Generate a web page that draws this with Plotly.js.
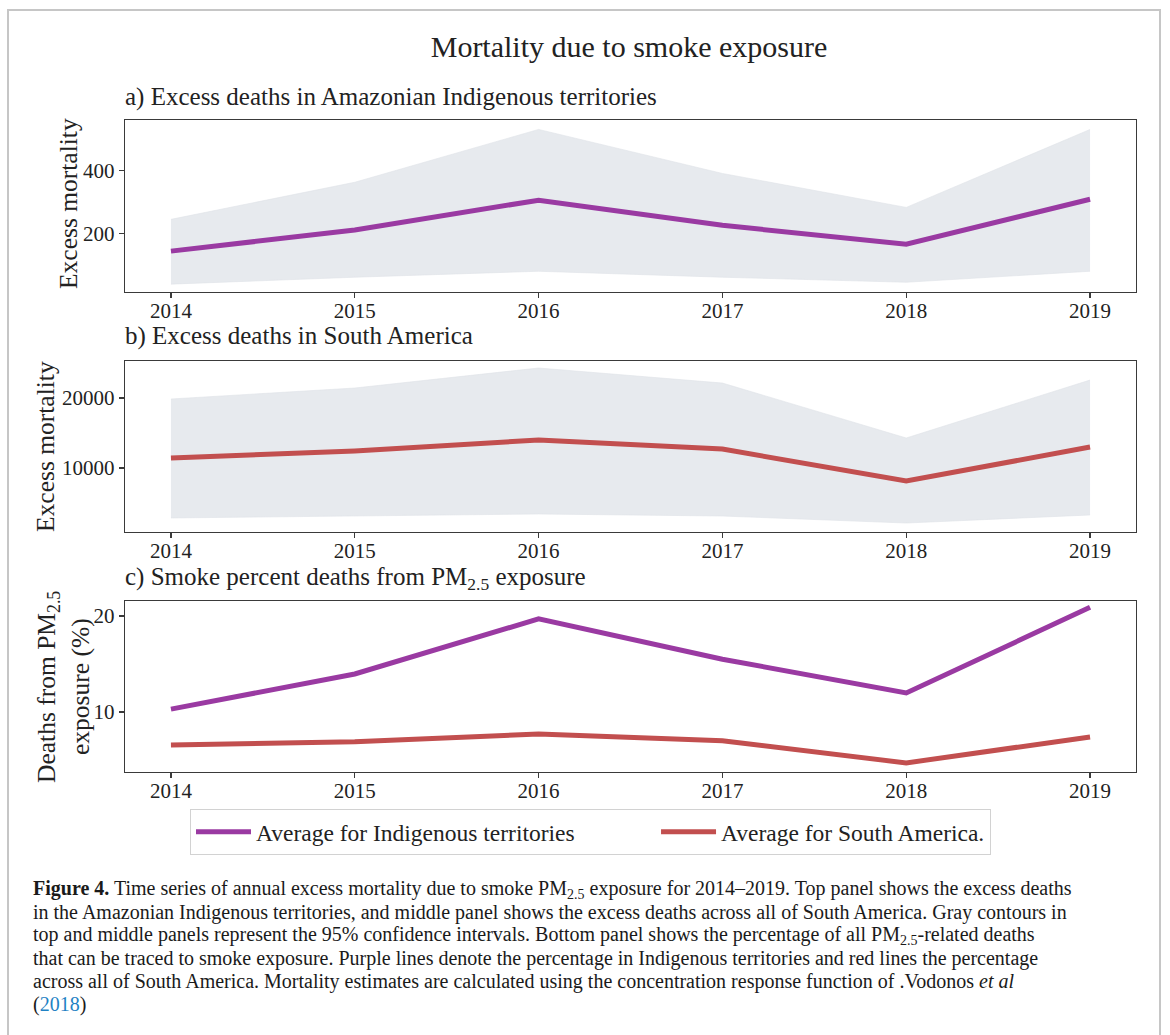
<!DOCTYPE html>
<html>
<head>
<meta charset="utf-8">
<script src="https://cdn.plot.ly/plotly-3.0.1.min.js"></script>
<style>html,body{margin:0;padding:0;background:#fff;}#chart{width:1170px;height:1035px;}</style>
</head>
<body>
<div id="chart"></div>
<script>
// ---- data ----
const years = [2014, 2015, 2016, 2017, 2018, 2019];
const indigMean  = [143, 210, 305, 225, 165, 308];
const indigUpper = [244, 362, 530, 390, 282, 530];
const indigLower = [38, 60, 79, 60, 44, 79];
const saMean  = [11430, 12430, 14000, 12700, 8140, 13000];
const saUpper = [19860, 21430, 24290, 22140, 14290, 22570];
const saLower = [2860, 3140, 3430, 3140, 2140, 3290];
const pctIndig = [10.3, 13.96, 19.7, 15.5, 11.98, 20.9];
const pctSA    = [6.56, 6.9, 7.7, 7.0, 4.7, 7.4];
const aTicks = [200, 400];
const bTicks = [10000, 20000];
const cTicks = [10, 20];

const W = 1170, H = 1035;
const px = v => v / W;
const py = v => 1 - v / H;

const PURPLE = '#9a3aa2';
const RED = '#c24f4f';
const BAND = '#e7eaee';
const FONT = 'Liberation Serif, DejaVu Serif, serif';
const TXT = '#222';
const NB = '&nbsp;'.repeat(13);

function band(upper, lower, xa, ya) {
  return [
    {x: years, y: upper, xaxis: xa, yaxis: ya, mode: 'lines', line: {width: 0.6, color: '#dfe3e8'}, showlegend: false, hoverinfo: 'skip'},
    {x: years, y: lower, xaxis: xa, yaxis: ya, mode: 'lines', line: {width: 0.6, color: '#dfe3e8'}, fill: 'tonexty', fillcolor: BAND, showlegend: false, hoverinfo: 'skip'}
  ];
}

const traces = [
  ...band(indigUpper, indigLower, 'x', 'y'),
  {x: years, y: indigMean, xaxis: 'x', yaxis: 'y', mode: 'lines', line: {color: PURPLE, width: 5}, showlegend: false},
  ...band(saUpper, saLower, 'x2', 'y2'),
  {x: years, y: saMean, xaxis: 'x2', yaxis: 'y2', mode: 'lines', line: {color: RED, width: 5}, showlegend: false},
  {x: years, y: pctIndig, xaxis: 'x3', yaxis: 'y3', mode: 'lines', line: {color: PURPLE, width: 5}, name: 'Average for Indigenous territories' + NB, showlegend: true},
  {x: years, y: pctSA, xaxis: 'x3', yaxis: 'y3', mode: 'lines', line: {color: RED, width: 5}, name: 'Average for South America.', showlegend: true}
];

const xdom = [px(125), px(1136)];
function xax(anchor) {
  return {domain: xdom, anchor: anchor, range: [2013.75, 2019.25], tickvals: years, ticktext: years.map(String),
    showline: true, mirror: true, linecolor: '#3a3a3a', linewidth: 1.3, ticks: 'outside', ticklen: 5, tickwidth: 1.2,
    tickcolor: '#3a3a3a', showgrid: false, zeroline: false, ticklabelstandoff: -6, tickfont: {family: FONT, size: 21, color: TXT}};
}
function yax(anchor, dom, range, ticks) {
  return {domain: dom, anchor: anchor, range: range, tickvals: ticks, ticktext: ticks.map(String),
    showline: true, mirror: true, linecolor: '#3a3a3a', linewidth: 1.3, ticks: 'outside', ticklen: 5, tickwidth: 1.2,
    tickcolor: '#3a3a3a', showgrid: false, zeroline: false, tickfont: {family: FONT, size: 21, color: TXT}};
}

const capFont = {family: FONT, size: 20, color: '#1a1a1a'};
const captionLines = [
  '<b>Figure 4.</b> Time series of annual excess mortality due to smoke PM<sub>2.5</sub> exposure for 2014–2019. Top panel shows the excess deaths',
  'in the Amazonian Indigenous territories, and middle panel shows the excess deaths across all of South America. Gray contours in',
  'top and middle panels represent the 95% confidence intervals. Bottom panel shows the percentage of all PM<sub>2.5</sub>-related deaths',
  'that can be traced to smoke exposure. Purple lines denote the percentage in Indigenous territories and red lines the percentage',
  'across all of South America. Mortality estimates are calculated using the concentration response function of .Vodonos <i>et al</i>',
  '(<span style="color:#1f82c4">2018</span>)'
];
const capY = [889, 912, 935, 958, 981, 1004];

const AX_T = 25.5;
const annotations = [
  {text: 'a) Excess deaths in Amazonian Indigenous territories', x: px(123), y: py(97), xref: 'paper', yref: 'paper', xanchor: 'left', yanchor: 'middle', showarrow: false, font: {family: FONT, size: 25, color: TXT}},
  {text: 'b) Excess deaths in South America', x: px(123), y: py(336), xref: 'paper', yref: 'paper', xanchor: 'left', yanchor: 'middle', showarrow: false, font: {family: FONT, size: 25, color: TXT}},
  {text: 'c) Smoke percent deaths from PM<sub>2.5</sub> exposure', x: px(123), y: py(578), xref: 'paper', yref: 'paper', xanchor: 'left', yanchor: 'middle', showarrow: false, font: {family: FONT, size: 25, color: TXT}},
  {text: 'Excess mortality', x: px(68), y: py(204), xref: 'paper', yref: 'paper', xanchor: 'center', yanchor: 'middle', textangle: -90, showarrow: false, font: {family: FONT, size: AX_T, color: TXT}},
  {text: 'Excess mortality', x: px(45), y: py(447), xref: 'paper', yref: 'paper', xanchor: 'center', yanchor: 'middle', textangle: -90, showarrow: false, font: {family: FONT, size: AX_T, color: TXT}},
  {text: 'Deaths from PM<sub>2.5</sub>', x: px(48), y: py(687), xref: 'paper', yref: 'paper', xanchor: 'center', yanchor: 'middle', textangle: -90, showarrow: false, font: {family: FONT, size: AX_T, color: TXT}},
  {text: 'exposure (%)', x: px(80), y: py(687), xref: 'paper', yref: 'paper', xanchor: 'center', yanchor: 'middle', textangle: -90, showarrow: false, font: {family: FONT, size: AX_T, color: TXT}}
];
captionLines.forEach((t, i) => annotations.push({text: t, x: px(31), y: py(capY[i]), xref: 'paper', yref: 'paper', xanchor: 'left', yanchor: 'middle', showarrow: false, align: 'left', font: capFont}));

const layout = {
  width: W, height: H,
  margin: {l: 0, r: 0, t: 0, b: 0},
  paper_bgcolor: '#ffffff', plot_bgcolor: '#ffffff',
  font: {family: FONT, color: TXT},
  title: {text: 'Mortality due to smoke exposure', x: px(629), xanchor: 'center', xref: 'paper', y: py(46), yanchor: 'middle', yref: 'paper', font: {family: FONT, size: 30, color: TXT}},
  xaxis: xax('y'), yaxis: yax('x', [py(292), py(120)], [13, 560], aTicks),
  xaxis2: xax('y2'), yaxis2: yax('x2', [py(532), py(361)], [857, 25290], bTicks),
  xaxis3: xax('y3'), yaxis3: yax('x3', [py(772), py(601)], [3.75, 21.56], cTicks),
  legend: {orientation: 'h', x: px(190), xanchor: 'left', y: py(809), yanchor: 'top', bordercolor: '#d2d2d2', borderwidth: 1, bgcolor: '#ffffff',
    font: {family: FONT, size: 23.5, color: TXT}, itemwidth: 55, traceorder: 'normal'},
  annotations: annotations,
  shapes: [
    {type: 'path', xref: 'paper', yref: 'paper', path: `M ${px(8)} ${py(1035)} L ${px(8)} ${py(10)} L ${px(1160)} ${py(10)} L ${px(1160)} ${py(1035)}`, line: {color: '#c6c6c6', width: 2}}
  ],
  showlegend: true
};

Plotly.newPlot('chart', traces, layout, {displayModeBar: false, staticPlot: true});
</script>
</body>
</html>
